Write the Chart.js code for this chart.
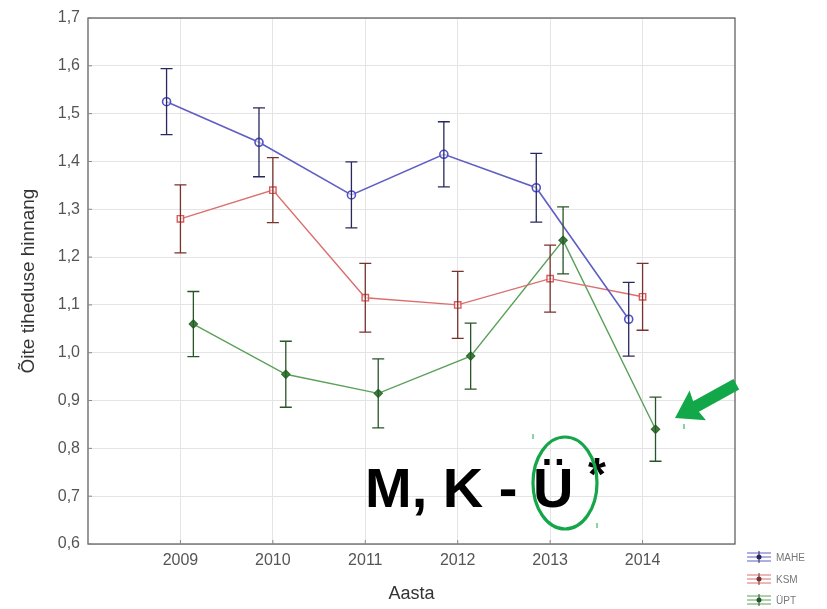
<!DOCTYPE html>
<html>
<head>
<meta charset="utf-8">
<script src="https://cdn.jsdelivr.net/npm/chart.js@4"></script>
<style>
  html, body { margin: 0; padding: 0; background: #fff; }
  #wrap { width: 827px; height: 609px; }
</style>
</head>
<body>
<div id="wrap"><canvas id="c" width="827" height="609"></canvas></div>
<script>
// years on the x axis
const years = [2009, 2010, 2011, 2012, 2013, 2014]
const yTicks = [0.6, 0.7, 0.8, 0.9, 1.0, 1.1, 1.2, 1.3, 1.4, 1.5, 1.6, 1.7]

// mean values
const mahe = [1.525, 1.44, 1.33, 1.415, 1.345, 1.07]
const ksm = [1.28, 1.34, 1.115, 1.10, 1.155, 1.117]
const upt = [1.06, 0.955, 0.915, 0.993, 1.235, 0.84]

// error bar half widths
const maheErr = [0.069, 0.072, 0.069, 0.068, 0.072, 0.077]
const ksmErr = [0.071, 0.068, 0.072, 0.07, 0.07, 0.07]
const uptErr = [0.068, 0.069, 0.072, 0.069, 0.07, 0.067]

const seriesNames = ['MAHE', 'KSM', 'ÜPT']

// little horizontal shift so the series don't overlap
const shift = [-0.15, 0, 0.14]

function pts(vals, errs, dx) {
  return vals.map((v, i) => ({ x: years[i] + dx, y: v, err: errs[i] }))
}

const errorBars = {
  id: 'errorBars',
  afterDatasetsDraw(chart) {
    const ctx = chart.ctx
    const ys = chart.scales.y
    chart.data.datasets.forEach((ds, di) => {
      const meta = chart.getDatasetMeta(di)
      ctx.save()
      ctx.strokeStyle = ds.errColor
      ctx.lineWidth = 1.3
      meta.data.forEach((el, i) => {
        const p = ds.data[i]
        const top = ys.getPixelForValue(p.y + p.err)
        const bot = ys.getPixelForValue(p.y - p.err)
        ctx.beginPath()
        ctx.moveTo(el.x, top); ctx.lineTo(el.x, bot)
        ctx.moveTo(el.x - 6, top); ctx.lineTo(el.x + 6, top)
        ctx.moveTo(el.x - 6, bot); ctx.lineTo(el.x + 6, bot)
        ctx.stroke()
      })
      ctx.restore()
    })
  }
}

const extras = {
  id: 'extras',
  afterDraw(chart) {
    const ctx = chart.ctx
    ctx.save()
    // frame + small inner ticks
    const a = chart.chartArea
    ctx.strokeStyle = '#555'
    ctx.lineWidth = 1.2
    ctx.strokeRect(a.left, a.top, a.right - a.left, a.bottom - a.top)
    ctx.lineWidth = 1
    ctx.strokeStyle = '#888'
    ctx.beginPath()
    chart.scales.y.ticks.forEach(t => {
      const py = chart.scales.y.getPixelForValue(t.value)
      ctx.moveTo(a.left, py); ctx.lineTo(a.left + 4, py)
    })
    chart.scales.x.ticks.forEach(t => {
      const px = chart.scales.x.getPixelForValue(t.value)
      ctx.moveTo(px, a.bottom); ctx.lineTo(px, a.bottom - 4)
    })
    ctx.stroke()

    // annotation text
    ctx.fillStyle = '#000'
    ctx.font = 'bold 56px "Liberation Sans", Arial, sans-serif'
    ctx.textBaseline = 'alphabetic'
    ctx.fillText('M, K - Ü', 365, 507)
    ctx.font = 'bold 46px "Liberation Sans", Arial, sans-serif'
    ctx.fillText('*', 588, 490)

    // ellipse round Ü
    ctx.strokeStyle = '#16a64a'
    ctx.lineWidth = 3.2
    ctx.beginPath()
    ctx.ellipse(565, 483, 32, 46, 0, 0, Math.PI * 2)
    ctx.stroke()

    // tiny marks
    ctx.lineWidth = 1
    ;[[533, 434], [597, 523], [684, 424]].forEach(m => {
      ctx.beginPath(); ctx.moveTo(m[0], m[1]); ctx.lineTo(m[0], m[1] + 5); ctx.stroke()
    })

    // arrow
    ctx.fillStyle = '#12a84a'
    ctx.translate(675, 418)
    ctx.rotate(Math.atan2(385 - 418, 735 - 675))
    ctx.beginPath()
    ctx.moveTo(0, 0)
    ctx.lineTo(26, -17)
    ctx.lineTo(24, -6)
    ctx.lineTo(70, -6)
    ctx.lineTo(70, 6)
    ctx.lineTo(24, 6)
    ctx.lineTo(26, 17)
    ctx.closePath()
    ctx.fill()
    ctx.restore()

    // legend
    ctx.save()
    const rows = [557, 579, 600]
    chart.data.datasets.forEach((ds, i) => {
      const y = rows[i]
      ctx.strokeStyle = ds.borderColor
      ctx.lineWidth = 1
      ctx.beginPath()
      ctx.moveTo(747, y - 4); ctx.lineTo(771, y - 4)
      ctx.moveTo(747, y); ctx.lineTo(771, y)
      ctx.moveTo(747, y + 4); ctx.lineTo(771, y + 4)
      ctx.stroke()
      ctx.strokeStyle = ds.errColor
      ctx.beginPath()
      ctx.moveTo(759, y - 6); ctx.lineTo(759, y + 6)
      ctx.stroke()
      ctx.fillStyle = ds.errColor
      ctx.beginPath(); ctx.arc(759, y, 2.5, 0, Math.PI * 2); ctx.fill()
      ctx.fillStyle = '#777'
      ctx.font = '10px "Liberation Sans", Arial, sans-serif'
      ctx.textBaseline = 'middle'
      ctx.fillText(ds.label, 776, y + 1)
    })
    ctx.restore()
  }
}

const fmt = v => v.toFixed(1).replace('.', ',')

new Chart(document.getElementById('c'), {
  type: 'line',
  data: {
    datasets: [
      {
        label: seriesNames[0],
        data: pts(mahe, maheErr, shift[0]),
        borderColor: 'rgb(95,95,195)',
        errColor: 'rgb(40,40,95)',
        pointStyle: 'circle',
        pointRadius: 4,
        pointBackgroundColor: 'rgba(255,255,255,0.6)',
        pointBorderColor: 'rgb(80,80,200)',
        borderWidth: 1.6
      },
      {
        label: seriesNames[1],
        data: pts(ksm, ksmErr, shift[1]),
        borderColor: 'rgb(220,110,110)',
        errColor: 'rgb(120,50,45)',
        pointStyle: 'rect',
        pointRadius: 4.5,
        pointBackgroundColor: 'rgba(255,255,255,0.6)',
        pointBorderColor: 'rgb(220,90,90)',
        borderWidth: 1.4
      },
      {
        label: seriesNames[2],
        data: pts(upt, uptErr, shift[2]),
        borderColor: 'rgb(90,160,90)',
        errColor: 'rgb(40,85,40)',
        pointStyle: 'rectRot',
        pointRadius: 4,
        pointBackgroundColor: 'rgb(60,130,60)',
        pointBorderColor: 'rgb(50,110,50)',
        borderWidth: 1.4
      }
    ]
  },
  options: {
    responsive: false,
    animation: false,
    layout: { padding: { left: 0, top: 18, right: 92, bottom: 0 } },
    plugins: { legend: { display: false }, tooltip: { enabled: false } },
    scales: {
      x: {
        type: 'linear',
        min: 2008,
        max: 2015,
        afterBuildTicks: s => { s.ticks = years.map(v => ({ value: v })) },
        afterFit: s => { s.height = 65 },
        ticks: {
          callback: v => String(v),
          color: '#555',
          font: { family: 'Liberation Sans', size: 16 },
          padding: 7
        },
        grid: { color: '#e4e4e4', drawTicks: false },
        border: { display: false },
        title: {
          display: true,
          text: 'Aasta',
          color: '#333',
          font: { family: 'Liberation Sans', size: 18 },
          padding: { top: 6 }
        }
      },
      y: {
        min: 0.6,
        max: 1.7,
        afterBuildTicks: s => { s.ticks = yTicks.map(v => ({ value: v })) },
        afterFit: s => { s.width = 88 },
        ticks: {
          callback: v => fmt(v),
          color: '#555',
          font: { family: 'Liberation Sans', size: 16 },
          padding: 8
        },
        grid: { color: '#e4e4e4', drawTicks: false },
        border: { display: false },
        title: {
          display: true,
          text: 'Õite tiheduse hinnang',
          color: '#333',
          font: { family: 'Liberation Sans', size: 19 },
          padding: { top: 17, bottom: 6 }
        }
      }
    }
  },
  plugins: [errorBars, extras]
})
</script>
</body>
</html>
